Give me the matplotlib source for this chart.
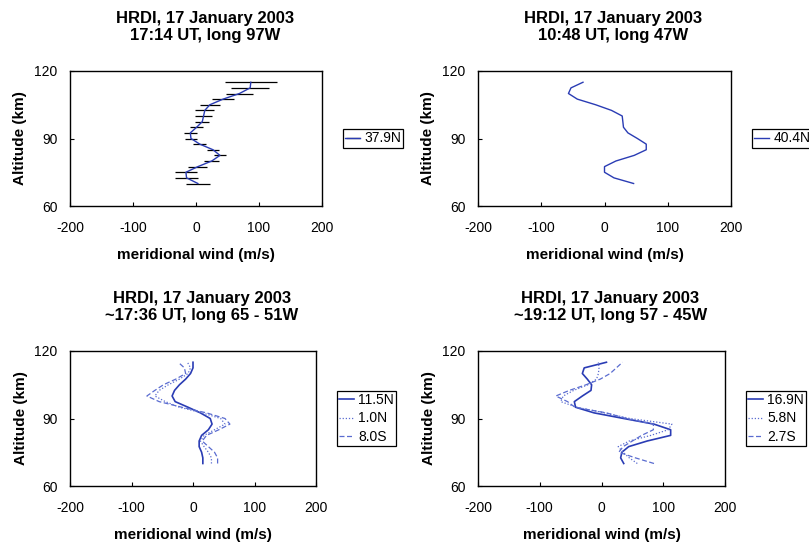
import numpy as np
import matplotlib
matplotlib.use("Agg")
import matplotlib.pyplot as plt

plt.rcParams['font.family'] = ['Liberation Sans', 'DejaVu Sans']
plt.rcParams['axes.unicode_minus'] = False

# altitude levels (km)
alt = [70, 72.5, 75, 77.5, 80, 82.5, 85, 87.5, 90, 92.5,
       95, 97.5, 100, 102.5, 105, 107.5, 110, 112.5, 115]

# panel 1: 17:14 UT, 97W
wind_379N = [3, -15, -16, 3, 25, 38, 27, 6, -8, -9,
             1, 10, 12, 14, 22, 43, 69, 86, 87]
err_379N = [19, 18, 17, 15, 12, 10, 10, 10, 10, 10,
            10, 11, 13, 15, 16, 18, 22, 30, 41]

# panel 2: 10:48 UT, 47W
wind_404N = [46, 15, 0, 0, 18, 47, 66, 66, 52, 37,
             30, 29, 28, 11, -14, -43, -57, -53, -34]

# panel 3: ~17:36 UT, 65 - 51W
wind_115N = [16, 16, 14, 10, 10, 14, 25, 31, 28, 12,
             -8, -29, -34, -30, -22, -12, -4, 0, 0]
wind_10N = [30, 30, 25, 18, 12, 18, 35, 52, 45, 15,
            -22, -45, -62, -55, -40, -22, -8, -4, -9]
wind_80S = [40, 40, 35, 25, 15, 22, 42, 60, 52, 22,
            -18, -55, -75, -62, -48, -28, -12, -14, -24]

# panel 4: ~19:12 UT, 57 - 45W
wind_169N = [36, 31, 33, 44, 74, 112, 112, 85, 36, -12,
             -42, -44, -31, -17, -16, -23, -31, -28, 8]
wind_58N = [58, 45, 35, 27, 45, 80, 108, 114, 46, 5,
            -40, -66, -62, -45, -22, -8, -5, -4, -5]
wind_27S = [85, 55, 28, 35, 50, 65, 84, 84, 40, 8,
            -43, -55, -74, -52, -25, -2, 14, 24, 34]

titles = ['HRDI, 17 January 2003\n17:14 UT, long 97W',
          'HRDI, 17 January 2003\n10:48 UT, long 47W',
          'HRDI, 17 January 2003\n~17:36 UT, long 65 - 51W',
          'HRDI, 17 January 2003\n~19:12 UT, long 57 - 45W']

dark = '#2a3cb4'
light = '#5a6cd0'

W, H = 809, 544
fig = plt.figure(figsize=(W / 100, H / 100), dpi=100)

# axes boxes in pixels: left, top, right, bottom
boxes = [(70, 71, 322, 206), (478, 71, 731, 206),
         (70, 351, 316, 486), (478, 351, 725, 486)]
axes = []
for (l, t, r, b) in boxes:
    ax = fig.add_axes([l / W, 1 - b / H, (r - l) / W, (b - t) / H])
    axes.append(ax)


def style(ax, title):
    ax.set_xlim(-200, 200)
    ax.set_ylim(60, 120)
    ax.set_xticks([-200, -100, 0, 100, 200])
    ax.set_yticks([60, 90, 120])
    ax.tick_params(direction='in', length=3, width=0.8, labelsize=10)
    ax.tick_params(axis='x', pad=11)
    ax.tick_params(axis='y', pad=9)
    for s in ax.spines.values():
        s.set_linewidth(1.0)
        s.set_color('black')
    ax.set_xlabel('meridional wind (m/s)', fontsize=11, fontweight='bold')
    ax.set_ylabel('Altitude (km)', fontsize=11, fontweight='bold')
    ax.xaxis.set_label_coords(0.5, -0.31)
    ax.yaxis.set_label_coords(-0.17, 0.5)
    ax.set_title(title, fontsize=12, fontweight='bold', x=0.535, pad=22,
                 linespacing=1.2)
    leg = ax.legend(loc='center left', bbox_to_anchor=(1 + 21 / 252, 0.5),
                    borderaxespad=0, fancybox=False, framealpha=1,
                    edgecolor='black', fontsize=10, handlelength=1.1,
                    handletextpad=0.3, borderpad=0.15, labelspacing=0.3)
    leg.get_frame().set_linewidth(0.9)


ax = axes[0]
ax.errorbar(wind_379N, alt, xerr=err_379N, color=dark, lw=1.0,
            ecolor='black', elinewidth=0.9, capsize=0, label='37.9N')
style(ax, titles[0])

ax = axes[1]
ax.plot(wind_404N, alt, color=dark, lw=1.0, label='40.4N')
style(ax, titles[1])

ax = axes[2]
ax.plot(wind_115N, alt, color=dark, lw=1.2, label='11.5N')
ax.plot(wind_10N, alt, color=light, lw=0.9, ls=(0, (1, 1.5)), label='1.0N')
ax.plot(wind_80S, alt, color=light, lw=0.9, ls=(0, (4, 2)), label='8.0S')
style(ax, titles[2])

ax = axes[3]
ax.plot(wind_169N, alt, color=dark, lw=1.2, label='16.9N')
ax.plot(wind_58N, alt, color=light, lw=0.9, ls=(0, (1, 1.5)), label='5.8N')
ax.plot(wind_27S, alt, color=light, lw=0.9, ls=(0, (4, 2)), label='2.7S')
style(ax, titles[3])

fig.savefig('out.png', dpi=100)
